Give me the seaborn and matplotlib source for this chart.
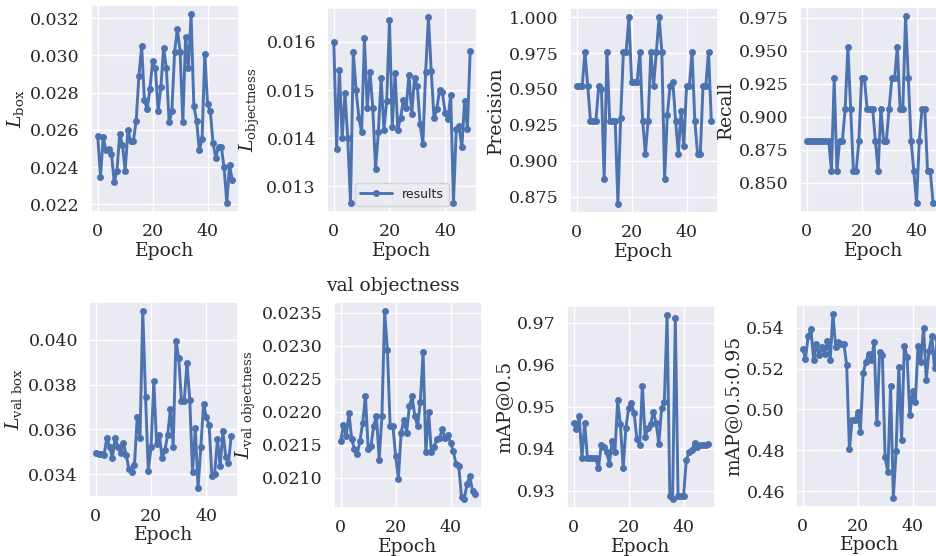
import matplotlib
matplotlib.use("Agg")
import matplotlib.pyplot as plt
import seaborn as sns

epochs = list(range(50))

box_loss = [0.0257, 0.0235, 0.0256, 0.0249, 0.0250, 0.0247, 0.0232, 0.0238, 0.0258, 0.0252,
            0.0238, 0.0260, 0.0254, 0.0254, 0.0265, 0.0289, 0.0305, 0.0276, 0.0271, 0.0282,
            0.0297, 0.0293, 0.0270, 0.0283, 0.0304, 0.0293, 0.0264, 0.0270, 0.0302, 0.0314,
            0.0302, 0.0264, 0.0310, 0.0293, 0.0322, 0.0273, 0.0265, 0.0249, 0.0255, 0.0301,
            0.0274, 0.0270, 0.0253, 0.0245, 0.0251, 0.0251, 0.0240, 0.0221, 0.0241, 0.0233]
obj_loss = [0.0160, 0.01378, 0.01542, 0.0140, 0.01494, 0.0140, 0.01266, 0.01578, 0.0150, 0.01442,
            0.01412, 0.01608, 0.01463, 0.01538, 0.01463, 0.01336, 0.01412, 0.01525, 0.01418, 0.01477,
            0.01645, 0.01423, 0.01535, 0.01418, 0.01442, 0.0148, 0.01463, 0.01532, 0.0145, 0.01525,
            0.01508, 0.01429, 0.01388, 0.01538, 0.01651, 0.0154, 0.01442, 0.0146, 0.0150, 0.01496,
            0.01453, 0.01439, 0.0149, 0.01266, 0.0142, 0.01425, 0.01381, 0.01477, 0.0142, 0.0158]
precision = [0.952, 0.952, 0.952, 0.976, 0.952, 0.928, 0.928, 0.928, 0.952, 0.950,
             0.887, 0.976, 0.928, 0.928, 0.928, 0.870, 0.930, 0.976, 0.976, 1.000,
             0.955, 0.955, 0.955, 0.976, 0.928, 0.905, 0.928, 0.976, 0.952, 0.976,
             1.000, 0.976, 0.887, 0.932, 0.952, 0.955, 0.928, 0.905, 0.935, 0.910,
             0.952, 0.952, 0.976, 0.928, 0.905, 0.905, 0.952, 0.952, 0.976, 0.928]
recall = [0.882, 0.882, 0.882, 0.882, 0.882, 0.882, 0.882, 0.882, 0.882, 0.859,
          0.929, 0.859, 0.882, 0.882, 0.906, 0.953, 0.906, 0.859, 0.859, 0.882,
          0.929, 0.929, 0.906, 0.906, 0.906, 0.882, 0.859, 0.906, 0.882, 0.882,
          0.906, 0.929, 0.929, 0.953, 0.906, 0.906, 0.976, 0.929, 0.882, 0.859,
          0.835, 0.882, 0.906, 0.906, 0.859, 0.859, 0.835]
val_box = [0.03495, 0.0349, 0.0349, 0.03485, 0.03562, 0.03523, 0.03471, 0.0356, 0.03523, 0.03492,
           0.03541, 0.03485, 0.03421, 0.03407, 0.03442, 0.03654, 0.0356, 0.0413, 0.03746, 0.03414,
           0.0352, 0.03817, 0.03534, 0.03576, 0.0347, 0.03506, 0.03576, 0.03689, 0.03523, 0.03997,
           0.03918, 0.03728, 0.03728, 0.03898, 0.03732, 0.0341, 0.03605, 0.03337, 0.0352, 0.03715,
           0.03654, 0.03619, 0.03393, 0.0340, 0.03555, 0.03435, 0.03591, 0.03478, 0.0345, 0.0357]
val_obj = [0.02155, 0.0218, 0.02163, 0.02198, 0.02158, 0.02143, 0.02136, 0.02155, 0.02183, 0.02224,
           0.02143, 0.02148, 0.02178, 0.02194, 0.02127, 0.02193, 0.02352, 0.02293, 0.02178, 0.02178,
           0.02133, 0.02098, 0.02168, 0.02188, 0.02168, 0.02208, 0.02223, 0.02193, 0.02178, 0.02215,
           0.0229, 0.02138, 0.0220, 0.02138, 0.02147, 0.02158, 0.0216, 0.02173, 0.0216, 0.02165,
           0.02153, 0.0214, 0.0212, 0.02117, 0.0207, 0.02068, 0.0209, 0.02102, 0.0208, 0.02075]
map50 = [0.9461, 0.9446, 0.9477, 0.9377, 0.9461, 0.9377, 0.9377, 0.9377, 0.9377, 0.9354,
         0.9408, 0.9404, 0.9392, 0.9365, 0.9419, 0.9392, 0.9515, 0.9458, 0.9354, 0.9450,
         0.9496, 0.9508, 0.9485, 0.9423, 0.9408, 0.9550, 0.9427, 0.9450, 0.9458, 0.9488,
         0.9461, 0.9412, 0.9496, 0.9512, 0.9718, 0.9288, 0.9281, 0.9712, 0.9288, 0.9288,
         0.9288, 0.9373, 0.9392, 0.9396, 0.9415, 0.9404, 0.9408, 0.9408, 0.9410, 0.9412]
map50_95 = [0.5297, 0.5249, 0.5360, 0.5392, 0.5241, 0.5321, 0.5265, 0.5305, 0.5273, 0.5337,
            0.5241, 0.5467, 0.5305, 0.5329, 0.5321, 0.5321, 0.5217, 0.4805, 0.4948, 0.4948,
            0.4987, 0.4892, 0.5178, 0.5233, 0.5273, 0.5241, 0.5329, 0.4932, 0.5281, 0.5265,
            0.4765, 0.4694, 0.5114, 0.4567, 0.4797, 0.5210, 0.4852, 0.5313, 0.5257, 0.4972,
            0.5091, 0.5035, 0.5313, 0.5233, 0.5400, 0.5146, 0.5289, 0.5360, 0.5202, 0.5352]

series = [box_loss, obj_loss, precision, recall, val_box, val_obj, map50, map50_95]
ylabels = [r'$L_{\rm box}$', r'$L_{\rm objectness}$', 'Precision', 'Recall',
           r'$L_{\rm val\ box}$', r'$L_{\rm val\ objectness}$', 'mAP@0.5', 'mAP@0.5:0.95']
yticks = [[0.022, 0.024, 0.026, 0.028, 0.030, 0.032],
          [0.013, 0.014, 0.015, 0.016],
          [0.875, 0.900, 0.925, 0.950, 0.975, 1.000],
          [0.850, 0.875, 0.900, 0.925, 0.950, 0.975],
          [0.034, 0.036, 0.038, 0.040],
          [0.0210, 0.0215, 0.0220, 0.0225, 0.0230, 0.0235],
          [0.93, 0.94, 0.95, 0.96, 0.97],
          [0.46, 0.48, 0.50, 0.52, 0.54]]
yfmt = ['%.3f', '%.3f', '%.3f', '%.3f', '%.3f', '%.4f', '%.2f', '%.2f']

# axes boxes in pixels: left, top, right, bottom
boxes = [(91, 5, 239, 212), (327, 8, 477, 212), (570, 8, 718, 213), (800, 7, 948, 212),
         (89, 302, 238, 497), (334, 302, 482, 508), (567, 306, 715, 508), (796, 305, 944, 507)]

sns.set_theme(style="darkgrid")
plt.rcParams['font.family'] = ['DejaVu Serif']
plt.rcParams['mathtext.fontset'] = 'dejavuserif'

W, H = 936, 556
fig = plt.figure(figsize=(W / 100, H / 100), dpi=100)
blue = '#4C72B0'

for i, (vals, box) in enumerate(zip(series, boxes)):
    l, t, r, b = box
    ax = fig.add_axes([l / W, 1 - b / H, (r - l) / W, (b - t) / H])
    lab = 'results' if i == 1 else None
    sns.lineplot(x=epochs[:len(vals)], y=vals, ax=ax, color=blue, marker='o', markersize=5,
                 markeredgewidth=0, linewidth=2.1, label=lab, legend=(i == 1))
    ax.set_xlim(-2.45, 51.45)
    ax.set_xticks([0, 20, 40])
    ax.set_yticks(yticks[i])
    ax.set_yticklabels([yfmt[i] % v for v in yticks[i]])
    ax.tick_params(labelsize=12.5, pad=2)
    ax.set_xlabel('Epoch', fontsize=13.5, labelpad=1)
    ax.set_ylabel(ylabels[i], fontsize=13.5, labelpad=3)
    if i == 1:
        ax.legend(loc='lower center', prop={'family': 'DejaVu Sans', 'size': 9},
                  handlelength=2.5, borderpad=0.4)
    if i == 5:
        ax.set_title('val objectness', fontsize=13.5, x=0.40, pad=8)

fig.savefig('out.png', dpi=100)
